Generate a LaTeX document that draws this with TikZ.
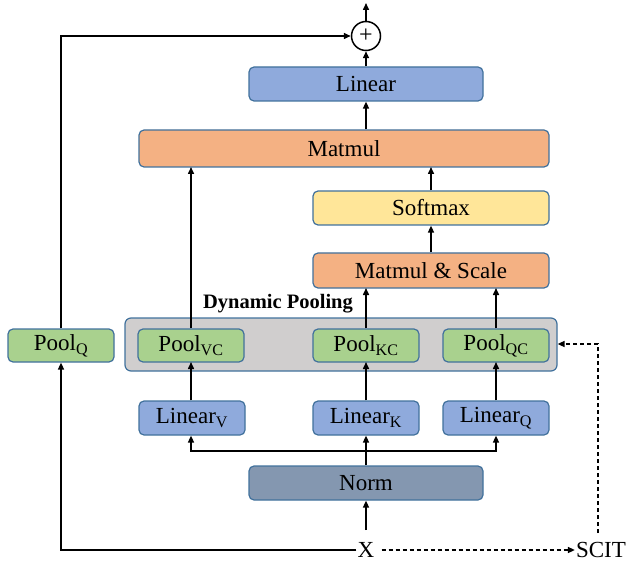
\documentclass[tikz,border=0pt]{standalone}
\usepackage{fontspec}
\setmainfont{Liberation Serif}
\usetikzlibrary{arrows.meta,calc}
\definecolor{lblue}{HTML}{8FAADC}
\definecolor{lorange}{HTML}{F4B183}
\definecolor{lyellow}{HTML}{FFE699}
\definecolor{lgreen}{HTML}{A9D18E}
\definecolor{lnorm}{HTML}{8497B0}
\definecolor{lgray}{HTML}{D0CECE}
\definecolor{bord}{HTML}{41719C}
\tikzset{
  blk/.style={draw=bord, line width=1.2pt, rounded corners=5pt, inner sep=0pt, font=\fontsize{23}{26}\selectfont},
  conn/.style={line width=1.5pt, -{Triangle[length=7pt,width=6pt]}},
  plain/.style={line width=1.5pt},
  dconn/.style={line width=1.5pt, dash pattern=on 4pt off 3pt, -{Triangle[length=7pt,width=6pt]}},
}
\newcommand{\bx}[7]{% name, x1, y1, x2, y2, fill, text
  \node[blk, fill=#6, minimum width=#4-#2, minimum height=#5-#3] (#1) at ({(#2+#4)/2},{(#3+#5)/2}) {#7};}
\begin{document}
\begin{tikzpicture}[x=1pt,y=-1pt]
\useasboundingbox (0,0) rectangle (640,564);
% dynamic pooling box
\node[draw=bord, line width=1.2pt, rounded corners=6pt, fill=lgray, minimum width=432pt, minimum height=53pt, inner sep=0pt] (dyn) at (341,344.5) {};
\node[font=\fontsize{20.5}{24}\selectfont\bfseries] (dynlbl) at (278,304) {Dynamic Pooling};
\bx{lin}{249}{67}{483}{101}{lblue}{Linear}
\bx{mm}{139}{130}{549}{167}{lorange}{Matmul}
\bx{sm}{313}{191}{549}{225}{lyellow}{Softmax}
\bx{ms}{313}{253}{549}{288}{lorange}{Matmul \& Scale}
\bx{pvc}{138}{329}{244}{362}{lgreen}{Pool\textsubscript{VC}}
\bx{pkc}{313}{329}{419}{362}{lgreen}{Pool\textsubscript{KC}}
\bx{pqc}{443}{329}{549}{362}{lgreen}{Pool\textsubscript{QC}}
\bx{pq}{8}{329}{114}{362}{lgreen}{Pool\textsubscript{Q}}
\bx{lv}{139}{401}{245}{435}{lblue}{Linear\textsubscript{V}}
\bx{lk}{313}{401}{419}{435}{lblue}{Linear\textsubscript{K}}
\bx{lq}{443}{401}{549}{435}{lblue}{Linear\textsubscript{Q}}
\bx{norm}{249}{466}{483}{500}{lnorm}{Norm}
\node[draw, line width=1.5pt, circle, minimum size=29pt, inner sep=0pt, font=\fontsize{24}{24}\selectfont] (plus) at (366,36) {+};
\node[font=\fontsize{23}{26}\selectfont, inner sep=1pt] (x) at (366,550) {X};
\node[font=\fontsize{23}{26}\selectfont, inner sep=1pt] (scit) at (601,550) {SCIT};
\coordinate (out) at (366,3);
% connectors
\draw[conn] (plus.north) -- (out);
\draw[conn] (lin.north) -- (plus.south);
\draw[conn] (mm.north -| lin.south) -- (lin.south);
\draw[conn] (sm.north -| 431,0) -- (431,167);
\draw[conn] (ms.north -| 431,0) -- (sm.south -| 431,0);
\draw[conn] (pvc.north -| 191,0) -- (191,167);
\draw[conn] (pkc.north -| 366,0) -- (366,288);
\draw[conn] (pqc.north -| 496,0) -- (496,288);
\draw[conn] (lv.north -| 191,0) -- (191,362);
\draw[conn] (lk.north -| 366,0) -- (366,362);
\draw[conn] (lq.north -| 496,0) -- (496,362);
\draw[conn] (norm.north) -- (lk.south);
\draw[conn] (366,451) -| (lv.south -| 191,0);
\draw[conn] (366,451) -| (lq.south -| 496,0);
\draw[conn] (366,530) -- (norm.south);
\draw[conn] (x.west) -| (pq.south);
\draw[conn] (pq.north) |- (plus.west);
\draw[dconn] (x.east) ++(6,0) -- (scit.west);
\draw[dconn] (598,533) |- (dyn.east |- 0,344);
\end{tikzpicture}
\end{document}
